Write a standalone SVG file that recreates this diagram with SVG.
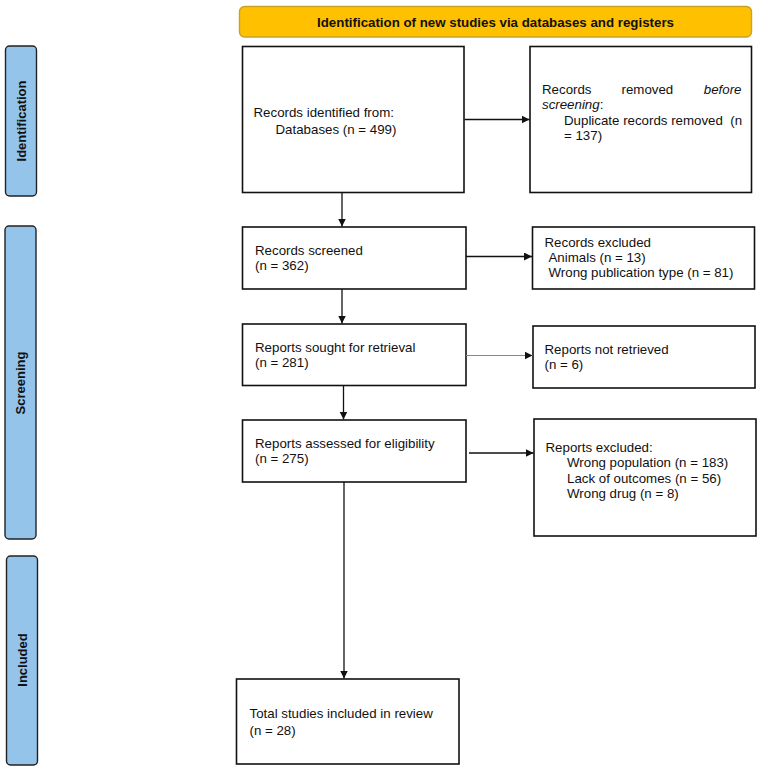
<svg xmlns="http://www.w3.org/2000/svg" width="758" height="773" viewBox="0 0 758 773">
<style>
.box{fill:#fff;stroke:#111;stroke-width:1.6}
.side{fill:#94C4EA;stroke:#222;stroke-width:1.4}
.t{font-family:"Liberation Sans",Arial,sans-serif;font-size:13.3px;fill:#111}
.b{font-weight:bold}
.i{font-style:italic}
.sl{font-family:"Liberation Sans",Arial,sans-serif;font-size:13px;font-weight:bold;fill:#111;text-anchor:middle}
.c{stroke:#111;stroke-width:1.3;fill:none;marker-end:url(#ah)}
.cg{stroke:#888;stroke-width:1;fill:none;marker-end:url(#ah)}
</style>
<defs>
<marker id="ah" markerUnits="userSpaceOnUse" markerWidth="9" markerHeight="9" refX="8" refY="4" orient="auto">
<path d="M0,0 L8,4 L0,8 z" fill="#111"/>
</marker>
</defs>
<rect width="758" height="773" fill="#fff"/>
<g id="header">
<rect x="239.5" y="6.5" width="512" height="30.5" rx="5" fill="#FFC000" stroke="#C9A227" stroke-width="1.4"/>
<text class="t b" x="495.5" y="27" text-anchor="middle">Identification of new studies via databases and registers</text>
</g>
<g id="side-identification">
<rect class="side" x="5.5" y="46" width="31" height="150" rx="4"/>
<text class="sl" transform="translate(25.5,121) rotate(-90)">Identification</text>
</g>
<g id="side-screening">
<rect class="side" x="5" y="226" width="31" height="313" rx="4"/>
<text class="sl" transform="translate(25,383) rotate(-90)">Screening</text>
</g>
<g id="side-included">
<rect class="side" x="6.5" y="556" width="31" height="209" rx="4"/>
<text class="sl" transform="translate(26.5,660) rotate(-90)">Included</text>
</g>
<g id="n-identified">
<rect class="box" x="242.5" y="46.5" width="221.5" height="146"/>
<text class="t" x="253.5" y="117">Records identified from:</text>
<text class="t" x="275.5" y="133.5">Databases (n = 499)</text>
</g>
<g id="n-removed">
<rect class="box" x="530" y="46.5" width="221.5" height="146"/>
<text class="t" x="542" y="94">Records</text>
<text class="t" x="621.5" y="94">removed</text>
<text class="t i" x="741.5" y="94" text-anchor="end">before</text>
<text class="t" x="542" y="109"><tspan class="i">screening</tspan>:</text>
<text class="t" x="564" y="124.5" xml:space="preserve">Duplicate records removed  (n</text>
<text class="t" x="564" y="140">= 137)</text>
</g>
<g id="n-screened">
<rect class="box" x="242.5" y="227" width="223.5" height="62"/>
<text class="t" x="255" y="255">Records screened</text>
<text class="t" x="255" y="270">(n = 362)</text>
</g>
<g id="n-excluded">
<rect class="box" x="532.5" y="227" width="222" height="62"/>
<text class="t" x="544.5" y="246.5">Records excluded</text>
<text class="t" x="548.5" y="262">Animals (n = 13)</text>
<text class="t" x="548.5" y="277">Wrong publication type (n = 81)</text>
</g>
<g id="n-sought">
<rect class="box" x="242.5" y="324" width="223.5" height="61.5"/>
<text class="t" x="255" y="351.5">Reports sought for retrieval</text>
<text class="t" x="255" y="366.5">(n = 281)</text>
</g>
<g id="n-notretrieved">
<rect class="box" x="533" y="326" width="222" height="62"/>
<text class="t" x="544.5" y="354">Reports not retrieved</text>
<text class="t" x="544.5" y="369">(n = 6)</text>
</g>
<g id="n-assessed">
<rect class="box" x="242.5" y="420" width="223.5" height="62"/>
<text class="t" x="255" y="448">Reports assessed for eligibility</text>
<text class="t" x="255" y="463">(n = 275)</text>
</g>
<g id="n-reportsexcluded">
<rect class="box" x="534" y="419" width="222" height="117"/>
<text class="t" x="545.5" y="451.5">Reports excluded:</text>
<text class="t" x="567" y="467">Wrong population (n = 183)</text>
<text class="t" x="567" y="482.5">Lack of outcomes (n = 56)</text>
<text class="t" x="567" y="497.5">Wrong drug (n = 8)</text>
</g>
<g id="n-included">
<rect class="box" x="236.5" y="679" width="222.5" height="85"/>
<text class="t" x="249.5" y="718">Total studies included in review</text>
<text class="t" x="249.5" y="735">(n = 28)</text>
</g>
<g id="connectors">
<line class="c" x1="464.5" y1="119.5" x2="529.5" y2="119.5"/>
<line class="c" x1="342" y1="192.5" x2="342" y2="226.5"/>
<line class="c" x1="466" y1="256.5" x2="532" y2="256.5"/>
<line class="c" x1="342" y1="289" x2="342" y2="323.5"/>
<line class="cg" x1="466" y1="355.5" x2="532.5" y2="355.5"/>
<line class="c" x1="343.5" y1="385.5" x2="343.5" y2="419.5"/>
<line class="c" x1="469" y1="453" x2="533.5" y2="453"/>
<line class="c" x1="344" y1="482" x2="344" y2="678.5"/>
</g>
</svg>
